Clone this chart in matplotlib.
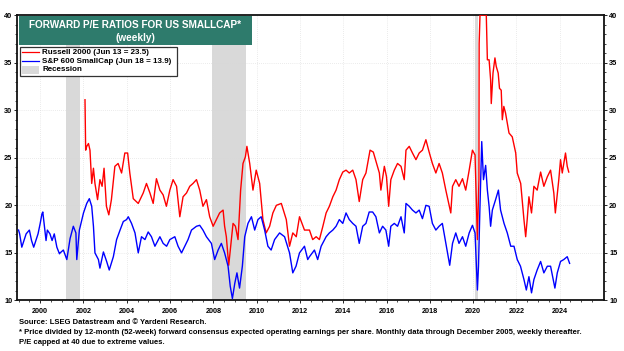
import matplotlib
matplotlib.use("Agg")
import matplotlib.pyplot as plt
from matplotlib.patches import Rectangle
from matplotlib.lines import Line2D

plt.rcParams['font.family'] = ['Liberation Sans', 'DejaVu Sans']
plt.rcParams['font.weight'] = 'bold'

# S&P 600 SmallCap forward P/E (decimal years)
sp600_t = [1999.00, 1999.05, 1999.15, 1999.25, 1999.35, 1999.50, 1999.60, 1999.70, 1999.80, 1999.90,
           2000.00, 2000.08, 2000.12, 2000.20, 2000.27, 2000.33, 2000.45, 2000.55, 2000.65, 2000.77,
           2000.89, 2000.92, 2001.07, 2001.23, 2001.38, 2001.53, 2001.65, 2001.69, 2001.81, 2002.00,
           2002.15, 2002.27, 2002.38, 2002.46, 2002.53, 2002.69, 2002.76, 2002.92, 2003.07, 2003.19,
           2003.38, 2003.53, 2003.69, 2003.84, 2003.99, 2004.07, 2004.22, 2004.38, 2004.53, 2004.68,
           2004.84, 2004.99, 2005.14, 2005.30, 2005.53, 2005.68, 2005.84, 2005.99, 2006.22, 2006.37,
           2006.53, 2006.68, 2006.83, 2006.99, 2007.22, 2007.37, 2007.52, 2007.68, 2007.91, 2008.06,
           2008.22, 2008.37, 2008.52, 2008.68, 2008.78, 2008.88, 2008.99, 2009.09, 2009.21, 2009.34,
           2009.45, 2009.60, 2009.76, 2009.91, 2010.06, 2010.21, 2010.37, 2010.52, 2010.67, 2010.83,
           2011.06, 2011.29, 2011.52, 2011.67, 2011.82, 2011.98, 2012.21, 2012.36, 2012.44, 2012.67,
           2012.82, 2012.98, 2013.21, 2013.36, 2013.52, 2013.67, 2013.82, 2013.98, 2014.13, 2014.28,
           2014.44, 2014.59, 2014.74, 2014.90, 2015.05, 2015.20, 2015.36, 2015.51, 2015.67, 2015.82,
           2015.97, 2016.10, 2016.20, 2016.36, 2016.51, 2016.67, 2016.82, 2016.90, 2017.05, 2017.20,
           2017.36, 2017.51, 2017.66, 2017.82, 2017.97, 2018.12, 2018.28, 2018.43, 2018.58, 2018.74,
           2018.92, 2019.05, 2019.20, 2019.35, 2019.51, 2019.66, 2019.82, 2019.97, 2020.09, 2020.20,
           2020.25, 2020.31, 2020.40, 2020.48, 2020.58, 2020.66, 2020.74, 2020.81, 2020.89, 2021.04,
           2021.17, 2021.27, 2021.43, 2021.58, 2021.74, 2021.89, 2022.04, 2022.19, 2022.35, 2022.46,
           2022.58, 2022.70, 2022.81, 2022.96, 2023.12, 2023.27, 2023.43, 2023.58, 2023.78, 2023.89,
           2024.04, 2024.19, 2024.35, 2024.46]
sp600_pe = [17.4, 17.0, 15.6, 16.3, 17.0, 17.4, 16.3, 15.6, 16.3, 17.0,
            18.1, 19.1, 19.3, 17.7, 16.3, 17.4, 17.0, 16.3, 17.0, 15.6,
            14.9, 15.0, 15.3, 14.3, 16.5, 17.8, 17.1, 14.3, 17.4, 19.2,
            20.2, 20.7, 19.9, 17.8, 15.0, 14.3, 13.4, 15.1, 14.1, 13.2,
            14.6, 16.4, 17.4, 18.3, 18.5, 18.8, 18.1, 17.1, 15.0, 16.7,
            16.4, 17.2, 16.7, 15.7, 16.7, 16.0, 15.7, 16.4, 16.7, 15.7,
            15.0, 15.7, 16.4, 17.4, 17.8, 17.9, 17.4, 16.7, 16.0, 14.3,
            15.3, 16.0, 15.0, 13.6, 11.5, 10.2, 11.8, 12.9, 11.3, 13.6,
            16.7, 18.1, 18.8, 17.4, 18.5, 18.8, 17.4, 15.7, 15.3, 16.4,
            17.1, 16.7, 15.0, 12.9, 13.6, 15.0, 15.7, 14.3, 14.6, 15.3,
            14.3, 15.7, 16.7, 17.1, 17.4, 17.8, 18.5, 18.1, 19.2, 18.5,
            18.1, 17.8, 16.0, 17.8, 18.1, 19.3, 19.3, 18.8, 17.1, 17.8,
            17.4, 15.7, 17.8, 18.1, 17.8, 18.8, 17.1, 20.2, 19.9, 19.5,
            19.2, 19.5, 18.6, 20.0, 19.9, 18.1, 17.4, 17.8, 18.1, 16.0,
            13.7, 16.0, 17.1, 16.0, 16.7, 15.7, 17.1, 17.9, 17.1, 11.1,
            13.6, 19.2, 26.7, 22.7, 24.2, 21.6, 19.9, 17.8, 19.5, 20.6,
            21.6, 19.5, 18.1, 17.1, 15.7, 15.7, 14.3, 13.6, 12.2, 11.1,
            12.5, 10.8, 12.2, 13.2, 14.1, 12.9, 13.6, 13.6, 11.3, 12.9,
            14.1, 14.3, 14.6, 13.9]

# Russell 2000 forward P/E (capped at 40)
r2000_t = [2002.07, 2002.10, 2002.15, 2002.23, 2002.30, 2002.38, 2002.46, 2002.53, 2002.65, 2002.76,
           2002.86, 2002.95, 2003.06, 2003.17, 2003.29, 2003.45, 2003.60, 2003.76, 2003.91, 2004.04,
           2004.14, 2004.30, 2004.53, 2004.76, 2004.91, 2005.07, 2005.22, 2005.37, 2005.53, 2005.68,
           2005.83, 2005.99, 2006.14, 2006.30, 2006.45, 2006.60, 2006.76, 2006.91, 2007.06, 2007.22,
           2007.37, 2007.52, 2007.68, 2007.83, 2007.99, 2008.14, 2008.29, 2008.45, 2008.52, 2008.60,
           2008.71, 2008.80, 2008.91, 2009.02, 2009.14, 2009.26, 2009.37, 2009.48, 2009.55, 2009.68,
           2009.83, 2009.98, 2010.14, 2010.29, 2010.44, 2010.60, 2010.75, 2010.91, 2011.14, 2011.37,
           2011.52, 2011.67, 2011.83, 2011.98, 2012.21, 2012.44, 2012.59, 2012.75, 2012.90, 2013.06,
           2013.21, 2013.36, 2013.52, 2013.67, 2013.82, 2013.98, 2014.13, 2014.28, 2014.44, 2014.59,
           2014.74, 2014.90, 2015.05, 2015.24, 2015.39, 2015.54, 2015.67, 2015.74, 2015.90, 2016.00,
           2016.10, 2016.20, 2016.36, 2016.51, 2016.67, 2016.82, 2016.90, 2017.05, 2017.20, 2017.36,
           2017.51, 2017.66, 2017.82, 2017.97, 2018.12, 2018.28, 2018.43, 2018.58, 2018.74, 2018.97,
           2019.05, 2019.20, 2019.35, 2019.51, 2019.66, 2019.82, 2019.97, 2020.09, 2020.20, 2020.27,
           2020.28, 2020.32, 2020.61, 2020.66, 2020.74, 2020.81, 2020.84, 2020.92, 2021.01, 2021.07,
           2021.16, 2021.22, 2021.30, 2021.35, 2021.42, 2021.50, 2021.66, 2021.81, 2021.97, 2022.04,
           2022.20, 2022.35, 2022.43, 2022.50, 2022.58, 2022.70, 2022.81, 2022.96, 2023.12, 2023.27,
           2023.43, 2023.58, 2023.73, 2023.80, 2023.96, 2024.04, 2024.12, 2024.27, 2024.35, 2024.42]
r2000_pe = [31.1, 25.8, 26.2, 26.5, 25.8, 22.3, 23.9, 22.3, 20.6, 22.7,
            22.0, 23.9, 19.9, 19.0, 20.6, 24.1, 24.4, 23.4, 25.5, 25.5,
            23.4, 20.7, 20.2, 21.3, 22.3, 21.3, 20.2, 22.8, 21.6, 21.1,
            19.9, 21.6, 22.7, 22.0, 18.8, 20.9, 21.3, 22.0, 22.3, 22.7,
            21.6, 19.9, 20.6, 18.8, 17.8, 18.5, 19.2, 19.5, 17.8, 16.7,
            13.7, 15.7, 18.1, 17.8, 16.4, 21.6, 24.4, 25.1, 26.2, 24.4,
            21.6, 23.7, 22.3, 18.5, 17.1, 17.8, 19.2, 20.0, 20.2, 18.5,
            15.7, 17.1, 16.7, 18.8, 17.4, 17.4, 16.4, 16.7, 16.4, 17.8,
            19.2, 19.9, 20.9, 21.6, 22.7, 23.5, 23.7, 23.4, 23.7, 22.7,
            20.4, 22.7, 23.4, 25.8, 25.6, 24.4, 23.4, 21.6, 24.1, 23.0,
            19.9, 22.7, 23.7, 24.4, 24.1, 22.7, 25.8, 26.2, 25.5, 24.8,
            25.5, 25.8, 26.9, 25.6, 24.4, 23.4, 24.4, 23.4, 21.6, 19.2,
            22.0, 22.7, 22.0, 22.8, 21.6, 23.7, 25.8, 25.3, 16.4, 22.7,
            37.0, 40.0, 40.0, 35.3, 35.3, 33.2, 30.7, 33.9, 35.5, 34.6,
            33.9, 32.3, 32.1, 29.0, 30.4, 29.7, 27.6, 27.2, 25.5, 23.4,
            22.3, 18.5, 16.7, 18.5, 20.9, 19.2, 22.0, 21.6, 23.5, 22.0,
            23.0, 23.7, 21.3, 19.2, 22.7, 24.8, 23.4, 25.5, 24.1, 23.5]

recessions = [(2001.17, 2001.83), (2007.92, 2009.50), (2020.08, 2020.25)]

year_ticks = list(range(2000, 2025, 2))
pe_ticks = [10, 15, 20, 25, 30, 35, 40]

fig = plt.figure(figsize=(6.24, 3.51), dpi=100)
ax = fig.add_axes([0.028, 0.144, 0.940, 0.813])

for start, end in recessions:
    ax.axvspan(start, end, color='#d9d9d9', lw=0, zorder=0)

ax.plot(r2000_t, r2000_pe, color='#ff0000', lw=1.0, zorder=3)
ax.plot(sp600_t, sp600_pe, color='#0000ff', lw=1.0, zorder=3)

ax.set_xlim(1998.95, 2026.05)
ax.set_ylim(10, 40)
ax.set_xticks(year_ticks)
ax.set_xticklabels([str(y) for y in year_ticks])
ax.set_xticks([y / 2 for y in range(3998, 4052)], minor=True)
ax.set_yticks(pe_ticks)
ax.set_yticks(range(10, 41), minor=True)
ax.grid(True, which='major', color='#d8d8d8', lw=0.5, ls=(0, (1, 2)))

ax.tick_params(axis='y', which='both', left=True, right=True, labelleft=True, labelright=True,
               direction='out', labelsize=5.3, pad=1.5)
ax.tick_params(axis='y', which='major', length=2.2, width=0.6)
ax.tick_params(axis='y', which='minor', length=1.3, width=0.5)
ax.tick_params(axis='x', which='major', length=2.2, width=0.6, labelsize=5.2, pad=3)
ax.tick_params(axis='x', which='minor', length=1.3, width=0.5)
for sp in ax.spines.values():
    sp.set_linewidth(1.3)
    sp.set_color('#111111')

# title box
fig.patches.append(Rectangle((0.0304, 0.8718), 0.3734, 0.0826, transform=fig.transFigure,
                             facecolor='#2e7b6c', edgecolor='none', zorder=5))
fig.text(0.217, 0.930, 'FORWARD P/E RATIOS FOR US SMALLCAP*', color='white', fontsize=7.2,
         fontweight='bold', ha='center', va='center', zorder=6)
fig.text(0.217, 0.891, '(weekly)', color='white', fontsize=7.2,
         fontweight='bold', ha='center', va='center', zorder=6)

# legend box
fig.patches.append(Rectangle((0.032, 0.7835), 0.2517, 0.0825, transform=fig.transFigure,
                             facecolor='white', edgecolor='#333333', lw=0.9, zorder=5))
rows = [(0.851, 'Russell 2000 (Jun 13 = 23.5)', '#ff0000', 'line'),
        (0.826, 'S&P 600 SmallCap (Jun 18 = 13.9)', '#0000ff', 'line'),
        (0.801, 'Recession', '#d9d9d9', 'box')]
for y, label, col, kind in rows:
    if kind == 'line':
        fig.lines.append(Line2D([0.035, 0.063], [y, y], transform=fig.transFigure,
                                color=col, lw=0.9, zorder=6))
    else:
        fig.patches.append(Rectangle((0.035, y - 0.011), 0.028, 0.022, transform=fig.transFigure,
                                     facecolor=col, edgecolor='none', zorder=6))
    fig.text(0.068, y, label, fontsize=5.8, fontweight='bold', ha='left', va='center', zorder=6)

# footnotes
fig.text(0.030, 0.080, 'Source: LSEG Datastream and \u00a9 Yardeni Research.',
         fontsize=5.5, fontweight='bold', va='center')
fig.text(0.030, 0.052, '* Price divided by 12-month (52-week) forward consensus expected operating '
         'earnings per share. Monthly data through December 2005, weekly thereafter.',
         fontsize=5.5, fontweight='bold', va='center')
fig.text(0.030, 0.024, 'P/E capped at 40 due to extreme values.',
         fontsize=5.5, fontweight='bold', va='center')

fig.savefig('out.png', dpi=100)
